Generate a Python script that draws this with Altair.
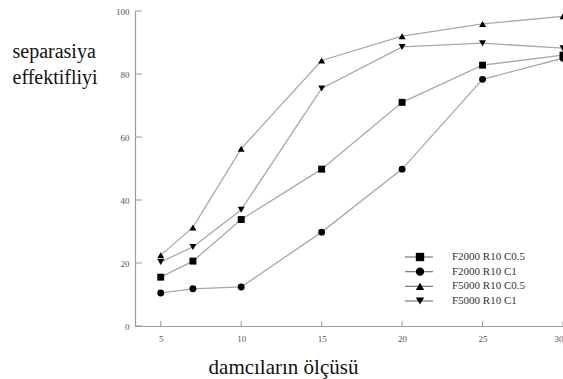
import altair as alt
import pandas as pd

# Droplet size (x) and separation efficiency (%) for each configuration
sizes = [5, 7, 10, 15, 20, 25, 30]
f2000_r10_c05 = [15.5, 20.6, 33.8, 49.8, 71.0, 82.8, 86.0]
f2000_r10_c1 = [10.5, 11.8, 12.4, 29.8, 49.8, 78.3, 85.0]
f5000_r10_c05 = [22.5, 31.3, 56.3, 84.3, 92.0, 95.9, 98.3]
f5000_r10_c1 = [20.3, 25.1, 36.9, 75.4, 88.6, 89.8, 88.2]

series_names = ["F2000 R10 C0.5", "F2000 R10 C1", "F5000 R10 C0.5", "F5000 R10 C1"]
series_shapes = ["square", "circle", "triangle-up", "triangle-down"]
x_ticks = [5, 10, 15, 20, 25, 30]
y_ticks = [0, 20, 40, 60, 80, 100]

rows = []
for name, vals in zip(series_names, [f2000_r10_c05, f2000_r10_c1, f5000_r10_c05, f5000_r10_c1]):
    for s, v in zip(sizes, vals):
        rows.append({"size": s, "eff": v, "series": name})
df = pd.DataFrame(rows)

W, H = 428, 315
SERIF = "Liberation Serif"
AXIS_GREY = "#9a9a9a"

x_scale = alt.Scale(domain=[3.4, 30], nice=False, zero=False)
y_scale = alt.Scale(domain=[0, 100], nice=False)
shape_scale = alt.Scale(domain=series_names, range=series_shapes)

x_axis = alt.Axis(
    values=x_ticks, ticks=False, grid=False, domainColor=AXIS_GREY, domainWidth=1.2,
    labelFont=SERIF, labelFontSize=9, labelColor="#555", labelPadding=8,
    title="damcıların ölçüsü", titleFont=SERIF, titleFontSize=21,
    titleFontWeight="normal", titleColor="#111", titleX=148, titleY=47,
    titleAlign="center", titleBaseline="alphabetic",
)
y_axis = alt.Axis(
    values=y_ticks, ticks=False, grid=False, domainColor=AXIS_GREY, domainWidth=1.2,
    labelFont=SERIF, labelFontSize=9, labelColor="#555", labelPadding=6,
    title=["separasiya", "effektifliyi"], titleFont=SERIF, titleFontSize=20,
    titleFontWeight="normal", titleColor="#111", titleAngle=0, titleAlign="left",
    titleBaseline="alphabetic", titleX=-123, titleY=46, titleLineHeight=26,
)

base = alt.Chart(df)
lines = base.mark_line(color="#a8a8a8", strokeWidth=1.3).encode(
    x=alt.X("size:Q", scale=x_scale, axis=x_axis),
    y=alt.Y("eff:Q", scale=y_scale, axis=y_axis),
    detail="series:N",
)
points = base.mark_point(filled=True, color="black", size=48, opacity=1).encode(
    x=alt.X("size:Q", scale=x_scale, axis=x_axis),
    y=alt.Y("eff:Q", scale=y_scale, axis=y_axis),
    shape=alt.Shape("series:N", scale=shape_scale, legend=None),
)

# inward tick marks
xt = alt.Chart(pd.DataFrame({"size": x_ticks})).mark_rule(color=AXIS_GREY, strokeWidth=1).encode(
    x=alt.X("size:Q", scale=x_scale, axis=x_axis),
    y=alt.value(H), y2=alt.value(H - 5),
)
yt = alt.Chart(pd.DataFrame({"eff": y_ticks})).mark_rule(color=AXIS_GREY, strokeWidth=1).encode(
    y=alt.Y("eff:Q", scale=y_scale, axis=y_axis),
    x=alt.value(0), x2=alt.value(7),
)

main = alt.layer(lines, xt, yt, points)

# legend block inside the plot
leg_df = pd.DataFrame({"series": series_names})
leg_y = alt.Y("series:N", scale=alt.Scale(type="point", domain=series_names, range=[246, 290], padding=0), axis=None)
leg_base = alt.Chart(leg_df)
leg_rule = leg_base.mark_rule(color="#777", strokeWidth=1.2).encode(
    y=leg_y, x=alt.value(270), x2=alt.value(298)
)
leg_point = leg_base.mark_point(filled=True, color="black", size=70, opacity=1).encode(
    y=leg_y, x=alt.value(285), shape=alt.Shape("series:N", scale=shape_scale, legend=None)
)
leg_text = leg_base.mark_text(
    align="left", baseline="middle", font=SERIF, fontSize=11, color="#333"
).encode(y=leg_y, x=alt.value(317), text="series:N")
legend = alt.layer(leg_rule, leg_point, leg_text)

chart = (
    alt.layer(main, legend)
    .resolve_scale(y="independent")
    .properties(
        width=W, height=H,
        autosize=alt.AutoSizeParams(type="none"),
        padding={"left": 135, "top": 11, "right": 0, "bottom": 53},
        background="white",
    )
    .configure_view(stroke=None)
)

chart.save("out.html", embed_options={"renderer": "svg", "actions": False})
